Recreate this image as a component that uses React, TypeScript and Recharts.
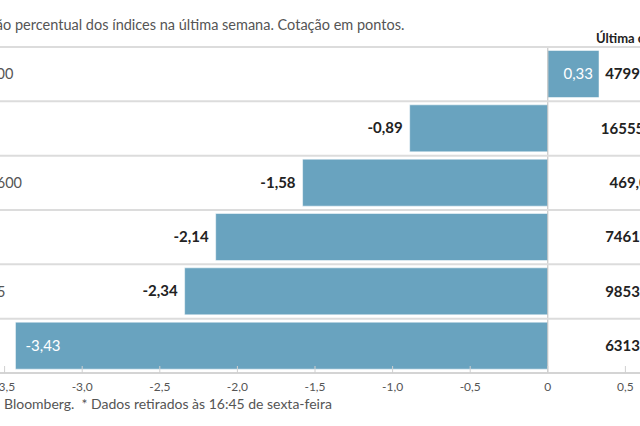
import { BarChart, Bar, XAxis, YAxis, ReferenceLine, LabelList } from 'recharts';

// índices e variação semanal (%)
const indices = ['S&P 500', 'DAX', 'Stoxx 600', 'FTSE', 'Ibex 35', 'PSI'];
const variacao = [0.33, -0.89, -1.58, -2.14, -2.34, -3.43];
const cotacao = ['4799,49', '16555,76', '469,06', '7461,11', '9853,20', '6313,67'];
const xTicks = [-3.5, -3, -2.5, -2, -1.5, -1, -0.5, 0, 0.5];

const data = indices.map((name, i) => ({ name, value: variacao[i], close: cotacao[i] }));

// the picture is a crop: chart is drawn wider and shifted left
const OFF = 100;
const FONT = 'Lato, "Noto Sans", sans-serif';

const fmt = (v: number) => (v === 0 ? '0' : v.toFixed(1).replace('.', ','));

const RowTick = (props: any) => {
  const { y, payload, index } = props;
  const half = payload && payload.offset ? payload.offset : 27.15;
  const row = data[index] || data.find((d) => d.name === payload.value);
  return (
    <g>
      <line x1={0} x2={840} y1={y - half} y2={y - half} stroke="#dcdcdc" strokeWidth={2} />
      <text x={OFF - 42} y={y + 5} fill="#555" fontSize={14.5} fontFamily={FONT}>
        {payload.value}
      </text>
      <text x={OFF + 633} y={y + 5} fill="#222" fontSize={15} fontWeight={700} textAnchor="middle" fontFamily={FONT}>
        {row ? row.close : ''}
      </text>
    </g>
  );
};

const AxisTick = (props: any) => {
  const { x, y, payload } = props;
  return (
    <g>
      <line x1={x} x2={x} y1={y} y2={y - 7} stroke="#d0d0d0" strokeWidth={1} />
      <text x={x} y={y + 18} fill="#555" fontSize={12} textAnchor="middle" fontFamily={FONT}>
        {fmt(payload.value)}
      </text>
    </g>
  );
};

const ValueLabel = (props: any) => {
  const { x, y, width, height, value } = props;
  const left = Math.min(x, x + width);
  const right = Math.max(x, x + width);
  const cy = y + height / 2 + 5;
  const txt = String(value.toFixed(2)).replace('.', ',');
  if (value > 0) {
    return (
      <text x={right - 6} y={cy} fill="#fff" fontSize={15} textAnchor="end" fontFamily={FONT}>
        {txt}
      </text>
    );
  }
  if (left - 50 < OFF) {
    return (
      <text x={left + 10} y={cy} fill="#fff" fontSize={15} textAnchor="start" fontFamily={FONT}>
        {txt}
      </text>
    );
  }
  return (
    <text x={left - 7} y={cy} fill="#222" fontSize={15} fontWeight={700} textAnchor="end" fontFamily={FONT}>
      {txt}
    </text>
  );
};

export default function App() {
  return (
    <div
      style={{
        position: 'absolute',
        left: 0,
        top: 0,
        width: 640,
        height: 426,
        overflow: 'hidden',
        background: '#fff',
        fontFamily: FONT,
      }}
    >
      <div style={{ position: 'absolute', left: -OFF, top: 0 }}>
        <BarChart
          width={840}
          height={426}
          data={data}
          layout="vertical"
          margin={{ top: 47, right: 37, bottom: 23, left: 0 }}
          barCategoryGap={3.5}
        >
          <XAxis
            type="number"
            domain={[-4, 1]}
            ticks={xTicks}
            allowDataOverflow
            height={30}
            axisLine={{ stroke: '#d4d4d4', strokeWidth: 2 }}
            tickLine={false}
            tickSize={0}
            tickMargin={0}
            tick={<AxisTick />}
            interval={0}
          />
          <YAxis
            type="category"
            dataKey="name"
            width={27}
            axisLine={false}
            tickLine={false}
            tick={<RowTick />}
            interval={0}
          />
          <Bar dataKey="value" fill="#69a3bf" stroke="#ffffff" strokeOpacity={0.5} isAnimationActive={false}>
            <LabelList dataKey="value" content={<ValueLabel />} />
          </Bar>
          <ReferenceLine x={0} stroke="#bdbdbd" strokeWidth={1} />
        </BarChart>
      </div>
      <div
        style={{
          position: 'absolute',
          left: -43,
          top: 16,
          fontSize: 14.5,
          lineHeight: '18px',
          color: '#555',
          whiteSpace: 'nowrap',
        }}
      >
        Variação percentual dos índices na última semana. Cotação em pontos.
      </div>
      <div
        style={{
          position: 'absolute',
          left: 596,
          top: 30,
          fontSize: 13,
          lineHeight: '16px',
          fontWeight: 700,
          color: '#222',
          whiteSpace: 'nowrap',
        }}
      >
        Última cotação*
      </div>
      <div
        style={{
          position: 'absolute',
          left: -42,
          top: 395,
          fontSize: 14,
          lineHeight: '18px',
          color: '#555',
          whiteSpace: 'nowrap',
        }}
      >
        Fonte:&nbsp; Bloomberg.&nbsp; * Dados retirados às 16:45 de sexta-feira
      </div>
    </div>
  );
}
